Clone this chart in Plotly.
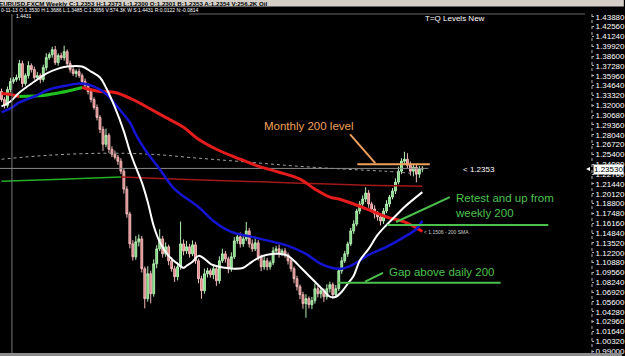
import plotly.graph_objects as go

# ---------------- data (EURUSD weekly) ----------------
first_open = 1.3385
closes = [
    1.3278, 1.3198, 1.3412, 1.3519, 1.3546, 1.3573, 1.3760, 1.3492, 1.3599, 1.3733,
    1.3679, 1.3573, 1.3599, 1.3546, 1.3706, 1.3840, 1.3880, 1.3947, 1.3773, 1.3867,
    1.3840, 1.3920, 1.3760, 1.3679, 1.3626, 1.3653, 1.3599, 1.3519, 1.3466, 1.3385,
    1.3278, 1.3171, 1.3038, 1.2877, 1.2677, 1.2797, 1.2610, 1.2543, 1.2503, 1.2450,
    1.2316, 1.2075, 1.1741, 1.1340, 1.1166, 1.1367, 1.1407, 1.1006, 1.0605, 1.0939,
    1.0671, 1.1073, 1.1273, 1.1407, 1.1206, 1.1300, 1.1113, 1.1006, 1.0899, 1.1033,
    1.1340, 1.1246, 1.1300, 1.1206, 1.1327, 1.1113, 1.0872, 1.0712, 1.0939, 1.0979,
    1.0926, 1.1006, 1.0845, 1.1113, 1.1206, 1.1139, 1.1006, 1.1166, 1.1380, 1.1434,
    1.1340, 1.1407, 1.1514, 1.1340, 1.1273, 1.1354, 1.1166, 1.1033, 1.1113, 1.1033,
    1.1086, 1.1246, 1.1273, 1.1206, 1.1246, 1.1193, 1.1113, 1.1006, 1.0872, 1.0765,
    1.0658, 1.0538, 1.0605, 1.0524, 1.0578, 1.0738, 1.0671, 1.0712, 1.0631, 1.0738,
    1.0792, 1.0658, 1.0738, 1.0979, 1.1113, 1.1206, 1.1340, 1.1514, 1.1607, 1.1781,
    1.1875, 1.1942, 1.2022, 1.1875, 1.1808, 1.1741, 1.1701, 1.1647, 1.1781, 1.1875,
    1.1968, 1.2049, 1.2169, 1.2316, 1.2450, 1.2476, 1.2396, 1.2316, 1.2369, 1.2276,
    1.2343, 1.2353,
]
upper_wick = [
    0.004, 0.003, 0.004, 0.005, 0.003, 0.004, 0.005, 0.004, 0.003, 0.006,
    0.003, 0.004, 0.005, 0.003, 0.004, 0.006, 0.003, 0.004, 0.005, 0.003,
    0.004, 0.008, 0.003, 0.004, 0.005, 0.003, 0.004, 0.003, 0.004, 0.003,
    0.004, 0.003, 0.004, 0.003, 0.004, 0.009, 0.003, 0.004, 0.005, 0.003,
    0.004, 0.003, 0.004, 0.003, 0.005, 0.008, 0.006, 0.004, 0.003, 0.010,
    0.004, 0.006, 0.005, 0.013, 0.004, 0.006, 0.003, 0.005, 0.004, 0.006,
    0.030, 0.006, 0.008, 0.004, 0.006, 0.004, 0.003, 0.004, 0.007, 0.004,
    0.003, 0.005, 0.004, 0.006, 0.007, 0.004, 0.003, 0.006, 0.005, 0.004,
    0.006, 0.004, 0.012, 0.004, 0.006, 0.008, 0.004, 0.003, 0.006, 0.004,
    0.003, 0.005, 0.004, 0.006, 0.003, 0.004, 0.003, 0.004, 0.003, 0.004,
    0.003, 0.004, 0.006, 0.003, 0.005, 0.007, 0.004, 0.005, 0.003, 0.006,
    0.004, 0.003, 0.005, 0.004, 0.005, 0.004, 0.003, 0.004, 0.005, 0.003,
    0.004, 0.005, 0.008, 0.004, 0.003, 0.005, 0.004, 0.003, 0.004, 0.005,
    0.003, 0.004, 0.005, 0.006, 0.004, 0.010, 0.008, 0.005, 0.004, 0.003,
    0.004, 0.003,
]
lower_wick = [
    0.003, 0.004, 0.003, 0.004, 0.003, 0.003, 0.004, 0.005, 0.003, 0.004,
    0.004, 0.003, 0.004, 0.005, 0.003, 0.004, 0.003, 0.004, 0.003, 0.004,
    0.003, 0.004, 0.003, 0.004, 0.003, 0.005, 0.003, 0.004, 0.003, 0.004,
    0.004, 0.003, 0.004, 0.005, 0.009, 0.004, 0.005, 0.004, 0.003, 0.005,
    0.004, 0.006, 0.005, 0.006, 0.005, 0.004, 0.006, 0.005, 0.013, 0.004,
    0.013, 0.004, 0.006, 0.003, 0.005, 0.004, 0.006, 0.004, 0.007, 0.005,
    0.004, 0.006, 0.004, 0.005, 0.003, 0.004, 0.006, 0.011, 0.004, 0.005,
    0.004, 0.006, 0.007, 0.004, 0.003, 0.005, 0.006, 0.004, 0.003, 0.004,
    0.005, 0.004, 0.003, 0.005, 0.004, 0.003, 0.005, 0.006, 0.004, 0.005,
    0.004, 0.003, 0.004, 0.005, 0.003, 0.004, 0.005, 0.004, 0.006, 0.005,
    0.006, 0.007, 0.019, 0.005, 0.006, 0.004, 0.005, 0.006, 0.007, 0.004,
    0.005, 0.006, 0.004, 0.003, 0.004, 0.003, 0.004, 0.003, 0.004, 0.003,
    0.004, 0.003, 0.004, 0.005, 0.004, 0.006, 0.005, 0.006, 0.004, 0.003,
    0.004, 0.003, 0.004, 0.003, 0.004, 0.005, 0.004, 0.006, 0.007, 0.011,
    0.005, 0.004,
]

# moving averages (sampled at candle index positions)
white_ma_x = [0, 3, 6, 11, 15, 19, 22, 27, 30, 33, 35, 38, 41, 43, 45, 47, 49, 51, 53, 56,
              59, 61, 62, 64, 66, 68, 70, 73, 75, 78, 81, 83, 86, 89, 93, 96, 98, 100, 103, 105,
              108, 110, 112, 114, 116, 118, 120, 123, 126, 129, 132, 135, 141]
white_ma_y = [1.3185, 1.3252, 1.3372, 1.3519, 1.3626, 1.3693, 1.3720, 1.3720, 1.3653, 1.3573,
              1.3439, 1.3171, 1.2851, 1.2583, 1.2369, 1.2169, 1.1902, 1.1580, 1.1367, 1.1179,
              1.1073, 1.1019, 1.1046, 1.1099, 1.1179, 1.1139, 1.1073, 1.1033, 1.1019, 1.1006,
              1.1019, 1.1073, 1.1153, 1.1193, 1.1206, 1.1179, 1.1113, 1.1033, 1.0912, 1.0832,
              1.0712, 1.0631, 1.0631, 1.0698, 1.0805, 1.0912, 1.1113, 1.1273, 1.1460, 1.1594,
              1.1714, 1.1835, 1.2035]

blue_ma_x = [0, 3, 6, 11, 16, 22, 26, 29, 33, 36, 39, 43, 45, 48, 53, 58, 66, 71, 77, 84,
             91, 96, 102, 107, 113, 117, 123, 129, 135, 139, 141]
blue_ma_y = [1.3105, 1.3158, 1.3238, 1.3318, 1.3412, 1.3466, 1.3492, 1.3479, 1.3412, 1.3318,
             1.3171, 1.2971, 1.2811, 1.2610, 1.2343, 1.2075, 1.1835, 1.1647, 1.1500, 1.1434,
             1.1367, 1.1313, 1.1206, 1.1073, 1.1006, 1.1046, 1.1193, 1.1300, 1.1434, 1.1540,
             1.1647]

sma200_fall1_x = [0, 3, 6]
sma200_fall1_y = [1.3359, 1.3345, 1.3318]
sma200_rise_x = [6, 14, 18, 23, 27]
sma200_rise_y = [1.3318, 1.3332, 1.3359, 1.3399, 1.3439]
sma200_fall2_x = [27, 33, 38, 44, 49, 55, 61, 66, 72, 80, 86, 93, 100, 105, 110, 113, 118,
                  124, 129, 135, 141]
sma200_fall2_y = [1.3439, 1.3385, 1.3372, 1.3278, 1.3171, 1.3038, 1.2904, 1.2744, 1.2610,
                  1.2476, 1.2383, 1.2302, 1.2209, 1.2075, 1.1968, 1.1942, 1.1875, 1.1781,
                  1.1701, 1.1634, 1.1506]

long_rise_x = [0, 20, 40]
long_rise_y = [1.2182, 1.2209, 1.2236]
long_fall_x = [40, 60, 80, 100, 120, 141]
long_fall_y = [1.2236, 1.2209, 1.2182, 1.2155, 1.2129, 1.2115]

daily_dot_x = [0, 16, 35, 50, 66, 83, 99, 115, 128, 137]
daily_dot_y = [1.2476, 1.2530, 1.2557, 1.2543, 1.2490, 1.2436, 1.2383, 1.2343, 1.2316, 1.2289]

current_price = 1.2353
monthly_200_level = 1.2409
weekly_200_level = 1.1594
daily_200_gap_level = 1.0819
sma200_value = 1.1506

tick_labels = ["1.43880", "1.42560", "1.41240", "1.39920", "1.38600", "1.37280", "1.35960",
               "1.34640", "1.33320", "1.32000", "1.30680", "1.29360", "1.28040", "1.26720",
               "1.25400", "1.24080", "1.22760", "1.21440", "1.20120", "1.18800", "1.17480",
               "1.16160", "1.14840", "1.13520", "1.12200", "1.10880", "1.09560", "1.08240",
               "1.06920", "1.05600", "1.04280", "1.02960", "1.01640", "1.00320", "0.99000"]

# ---------------- derived candle fields ----------------
idx = list(range(len(closes)))
opens = [first_open] + closes[:-1]
highs = [max(o, c) + u for o, c, u in zip(opens, closes, upper_wick)]
lows = [min(o, c) - l for o, c, l in zip(opens, closes, lower_wick)]

# ---------------- figure ----------------
W, H = 625, 356
PW = 594  # plot width in px


def px(x):
    return x / PW


def py(y):
    return 1 - y / H


fig = go.Figure()

# thin background lines
fig.add_trace(go.Scatter(x=daily_dot_x, y=daily_dot_y, mode="lines", line_shape="spline",
                         line=dict(color="#a0a0a0", width=1, dash="dot"), hoverinfo="skip"))
fig.add_trace(go.Scatter(x=[-0.5, 143], y=[current_price, current_price], mode="lines",
                         line=dict(color="#8a8a8a", width=1), hoverinfo="skip"))
fig.add_trace(go.Scatter(x=long_rise_x, y=long_rise_y, mode="lines", line_shape="spline",
                         line=dict(color="#22b022", width=1.5), hoverinfo="skip"))
fig.add_trace(go.Scatter(x=long_fall_x, y=long_fall_y, mode="lines", line_shape="spline",
                         line=dict(color="#a01818", width=1.5), hoverinfo="skip"))

fig.add_trace(go.Candlestick(
    x=idx, open=opens, high=highs, low=lows, close=closes,
    increasing=dict(line=dict(color="#b4eeb4", width=1), fillcolor="#74d874"),
    decreasing=dict(line=dict(color="#f0b8b8", width=1), fillcolor="#e28282"),
    whiskerwidth=0, hoverinfo="skip"))

fig.add_trace(go.Scatter(x=sma200_fall1_x, y=sma200_fall1_y, mode="lines", line_shape="spline",
                         line=dict(color="#e41c1c", width=3), hoverinfo="skip"))
fig.add_trace(go.Scatter(x=sma200_rise_x, y=sma200_rise_y, mode="lines", line_shape="spline",
                         line=dict(color="#1fc01f", width=3), hoverinfo="skip"))
fig.add_trace(go.Scatter(x=sma200_fall2_x, y=sma200_fall2_y, mode="lines", line_shape="spline",
                         line=dict(color="#e41c1c", width=3), hoverinfo="skip"))
fig.add_trace(go.Scatter(x=blue_ma_x, y=blue_ma_y, mode="lines", line_shape="spline",
                         line=dict(color="#1414d2", width=2.5), hoverinfo="skip"))
fig.add_trace(go.Scatter(x=white_ma_x, y=white_ma_y, mode="lines", line_shape="spline",
                         line=dict(color="#ffffff", width=2), hoverinfo="skip"))

ORANGE = "#f0a05a"
GREEN = "#4cc04c"

shapes = [
    # top title bar
    dict(type="rect", xref="paper", yref="paper", x0=px(-2), x1=px(W + 2), y0=py(6.5), y1=1.01,
         fillcolor="#d4d0c8", line=dict(width=0), layer="above"),
    # separator under info row
    dict(type="line", xref="paper", yref="paper", x0=px(190), x1=px(588), y0=py(14), y1=py(14),
         line=dict(color="#6a6a6a", width=1)),
    # crosshair vertical
    dict(type="line", xref="paper", yref="paper", x0=px(12), x1=px(12), y0=py(14), y1=py(353),
         line=dict(color="#7a7a7a", width=1)),
    # price axis dotted border
    dict(type="line", xref="paper", yref="paper", x0=px(595), x1=px(595), y0=py(14), y1=0,
         line=dict(color="#b0b0b0", width=1, dash="dot")),
    # bottom border
    dict(type="rect", xref="paper", yref="paper", x0=0, x1=px(W), y0=0, y1=py(353),
         fillcolor="#8c8c8c", line=dict(width=0), layer="above"),
    # monthly 200 level
    dict(type="line", xref="x", yref="y", x0=116.8, x1=125.2, y0=1.2810, y1=1.2423,
         line=dict(color=ORANGE, width=2)),
    dict(type="line", xref="x", yref="y", x0=119.2, x1=143.5, y0=monthly_200_level,
         y1=monthly_200_level, line=dict(color=ORANGE, width=2)),
    # retest weekly 200
    dict(type="line", xref="x", yref="y", x0=132.2, x1=150.2, y0=1.1634, y1=1.1968,
         line=dict(color=GREEN, width=2)),
    dict(type="line", xref="x", yref="y", x0=129.2, x1=183.2, y0=weekly_200_level,
         y1=weekly_200_level, line=dict(color=GREEN, width=2)),
    # gap above daily 200
    dict(type="line", xref="x", yref="y", x0=121.8, x1=127.8, y0=1.0832, y1=1.0952,
         line=dict(color=GREEN, width=2)),
    dict(type="line", xref="x", yref="y", x0=112.8, x1=167.2, y0=daily_200_gap_level,
         y1=daily_200_gap_level, line=dict(color=GREEN, width=2)),
    # current price marker on axis
    dict(type="path", xref="paper", yref="paper",
         path=f"M {px(589)},{py(169)} L {px(593)},{py(167)} L {px(593)},{py(171)} Z",
         fillcolor="#ffffff", line=dict(width=0)),
]

FONT = "Liberation Sans"
annotations = [
    dict(text="<b>EURUSD.FXCM Weekly C:1.2353 H:1.2373 L:1.2300 O:1.2301 B:1.2353 A:1.2354 V:256.2K Oil</b>",
         x=px(-3), y=py(3.4), xanchor="left", yanchor="middle",
         font=dict(family=FONT, size=6.2, color="#000000")),
    dict(text="0-11-13 O:1.3530 H:1.3686 L:1.3485 C:1.3656 V:574.3K W S:1.4431 R:0.0122 N:-0.0814",
         x=px(-1), y=py(10), xanchor="left", yanchor="middle",
         font=dict(family=FONT, size=5, color="#ffffff")),
    dict(text="1.4431", x=px(14), y=py(16), xanchor="left", yanchor="middle",
         font=dict(family=FONT, size=5, color="#ffffff")),
    dict(text="T=Q Levels New", x=px(425), y=py(19), xanchor="left", yanchor="middle",
         font=dict(family=FONT, size=8, color="#ffffff")),
    dict(text="Monthly 200 level", x=px(263), y=py(126), xanchor="left", yanchor="middle",
         font=dict(family=FONT, size=11.5, color=ORANGE)),
    dict(text="< 1.2353", x=px(463), y=py(169), xanchor="left", yanchor="middle",
         font=dict(family=FONT, size=8, color="#ffffff")),
    dict(text="Retest and up from<br>weekly 200", x=px(455), y=py(205.5), xanchor="left",
         yanchor="middle", align="left",
         font=dict(family=FONT, size=11.5, color=GREEN)),
    dict(text="Gap above daily 200", x=px(389), y=py(271.5), xanchor="left", yanchor="middle",
         font=dict(family=FONT, size=11.5, color=GREEN)),
    dict(text="< 1.1506 - 200 SMA", x=px(424), y=py(232), xanchor="left", yanchor="middle",
         font=dict(family=FONT, size=5, color="#d0d0d0")),
    dict(text="1.23530", x=px(596), y=py(169), xanchor="left", yanchor="middle",
         bgcolor="#ffffff", borderpad=0,
         font=dict(family=FONT, size=8, color="#000000")),
]
for a in annotations:
    a.setdefault("xref", "paper")
    a.setdefault("yref", "paper")
    a["showarrow"] = False

fig.update_layout(
    width=W, height=H,
    margin=dict(l=0, r=W - PW, t=0, b=0),
    paper_bgcolor="#000000", plot_bgcolor="#000000",
    showlegend=False, hovermode=False,
    boxgap=0.12,
    shapes=shapes, annotations=annotations,
    xaxis=dict(range=[-0.5, 197.5], visible=False, rangeslider=dict(visible=False),
               fixedrange=True),
    yaxis=dict(range=[0.98350, 1.46135], side="right",
               tickvals=[float(t) for t in tick_labels], ticktext=tick_labels,
               tickfont=dict(family=FONT, size=8, color="#ffffff"),
               ticks="outside", ticklen=2, tickcolor="#b0b0b0",
               showgrid=False, zeroline=False, showline=False, fixedrange=True),
)

fig.write_html("out.html", config={"displayModeBar": False})
